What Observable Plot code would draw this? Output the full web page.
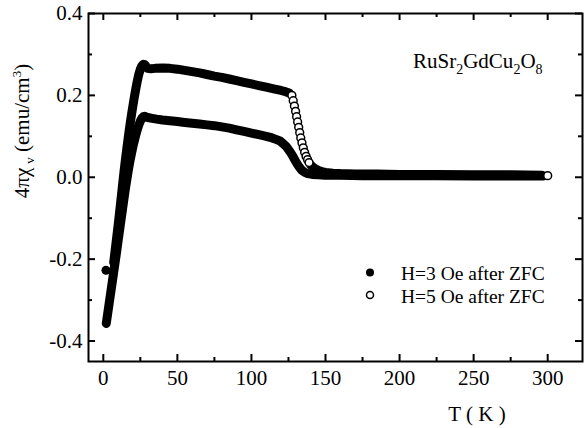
<!DOCTYPE html>
<html><head><meta charset="utf-8">
<script src="https://cdn.jsdelivr.net/npm/d3@7"></script>
<script src="https://cdn.jsdelivr.net/npm/@observablehq/plot@0.6"></script>
<style>body{margin:0;background:#fff;} svg{display:block;}</style>
</head><body><div id="chart"></div>
<script>
// H = 3 Oe after ZFC (filled circles)
const h3T   = [2,3,4,5,6,7,8,9,10,11,12,13,14,15,16,17,18,19,20,21,22,23,24,25,26,27,28,29,30,33,36,40,45,50,55,60,65,70,75,80,85,90,95,100,105,110,114,117,119.5,121.5,123.5,125,126.5,128,129.5,131,132.5,134,136,138,141,145,150,160,175,200,225,250,275,297];
const h3Chi = [-0.357,-0.332,-0.307,-0.282,-0.257,-0.232,-0.207,-0.182,-0.155,-0.129,-0.103,-0.077,-0.051,-0.026,-0.003,0.02,0.04,0.058,0.075,0.09,0.104,0.117,0.128,0.137,0.144,0.148,0.149,0.147,0.146,0.144,0.142,0.14,0.138,0.136,0.134,0.132,0.13,0.128,0.126,0.123,0.12,0.116,0.112,0.108,0.104,0.1,0.096,0.092,0.088,0.082,0.075,0.068,0.06,0.051,0.041,0.032,0.024,0.017,0.012,0.009,0.007,0.006,0.005,0.005,0.004,0.004,0.004,0.003,0.003,0.003];
// stray low-temperature point
const h3StrayT   = [1.8];
const h3StrayChi = [-0.227];

// H = 5 Oe after ZFC (open circles)
const h5T   = [7,8,9,10,11,12,13,14,15,16,17,18,19,20,21,22,23,24,25,26,27,28,29,30,32,35,40,45,50,55,60,65,70,75,80,85,90,95,100,105,110,115,120,123,125.5,127.3,128.2,129,129.8,130.5,131.2,131.9,132.6,133.3,134.1,135,135.9,136.9,137.9,138.9,140,141.5,143,145,147.5,150,155,160,170,185,200,225,250,275,296,300];
const h5Chi = [-0.208,-0.178,-0.148,-0.117,-0.085,-0.052,-0.018,0.015,0.045,0.074,0.102,0.128,0.152,0.175,0.197,0.217,0.236,0.252,0.264,0.272,0.276,0.275,0.27,0.266,0.265,0.266,0.267,0.266,0.264,0.261,0.258,0.255,0.251,0.247,0.244,0.24,0.236,0.232,0.228,0.224,0.22,0.216,0.212,0.209,0.206,0.2,0.187,0.174,0.161,0.148,0.135,0.122,0.109,0.096,0.084,0.072,0.061,0.051,0.043,0.036,0.03,0.025,0.021,0.017,0.014,0.012,0.01,0.009,0.008,0.008,0.007,0.007,0.006,0.006,0.005,0.004];

const xTicks = [0,50,100,150,200,250,300];
const xMinor = [25,75,125,175,225,275];
const yTicks = [-0.4,-0.2,0.0,0.2,0.4];
const yMinor = [-0.3,-0.1,0.1,0.3];
const seriesNames = ["H=3 Oe after ZFC","H=5 Oe after ZFC"];
const compoundParts = [["RuSr",""],["2","sub"],["GdCu",""],["2","sub"],["O",""],["8","sub"]];
const xTitle = "T ( K )";

const W = 584, H = 428, mL = 88, mR = 2, mT = 13, mB = 67;
const frameW = W - mL - mR, frameH = H - mT - mB;
const font = "Liberation Serif, Times New Roman, serif";
const fs = 21;

const h3 = h3T.map((T,i)=>({T, chi:h3Chi[i]}));
const h3Stray = h3StrayT.map((T,i)=>({T, chi:h3StrayChi[i]}));
const h5 = h5T.map((T,i)=>({T, chi:h5Chi[i]}));
// points that are far apart on screen show up as separate open circles
const sparse = d => (d.T >= 127 && d.T <= 139) || d.T >= 300;
let seg = 0;
h5.forEach((d,i)=>{ if (i>0 && sparse(d)!==sparse(h5[i-1])) seg++; d.seg = seg; });

const plot = Plot.plot({
  width: W, height: H,
  marginLeft: mL, marginRight: mR, marginTop: mT, marginBottom: mB,
  style: {fontFamily: font, fontSize: fs+"px", color: "black", background: "white"},
  x: {domain: [-10, 323.5]},
  y: {domain: [-0.45, 0.4]},
  marks: [
    Plot.line(h3, {x:"T", y:"chi", stroke:"black", strokeWidth:9, strokeLinecap:"round", strokeLinejoin:"round"}),
    Plot.dot(h3Stray, {x:"T", y:"chi", r:4.5, fill:"black"}),
    Plot.line(h5.filter(d=>!sparse(d)), {x:"T", y:"chi", z:"seg", stroke:"black", strokeWidth:9, strokeLinecap:"round", strokeLinejoin:"round"}),
    Plot.dot(h5.filter(sparse), {x:"T", y:"chi", r:3.9, fill:"white", stroke:"black", strokeWidth:1.5}),
    // inward ticks on all four sides
    Plot.tickX(xTicks, {x:d=>d, insetBottom: frameH-7, stroke:"black", strokeWidth:2}),
    Plot.tickX(xTicks, {x:d=>d, insetTop: frameH-7, stroke:"black", strokeWidth:2}),
    Plot.tickX(xMinor, {x:d=>d, insetBottom: frameH-4, stroke:"black", strokeWidth:2}),
    Plot.tickX(xMinor, {x:d=>d, insetTop: frameH-4, stroke:"black", strokeWidth:2}),
    Plot.tickY(yTicks, {y:d=>d, insetRight: frameW-7, stroke:"black", strokeWidth:2}),
    Plot.tickY(yTicks, {y:d=>d, insetLeft: frameW-7, stroke:"black", strokeWidth:2}),
    Plot.tickY(yMinor, {y:d=>d, insetRight: frameW-4, stroke:"black", strokeWidth:2}),
    Plot.tickY(yMinor, {y:d=>d, insetLeft: frameW-4, stroke:"black", strokeWidth:2}),
    Plot.axisX({ticks: xTicks, tickSize: 0, tickPadding: 9, fontSize: fs, label: null, tickFormat: d=>String(d)}),
    Plot.axisY({ticks: yTicks, tickSize: 0, tickPadding: 6, fontSize: fs, label: null, tickFormat: d=>d.toFixed(1)}),
    Plot.frame({stroke:"black", strokeWidth:2})
  ]
});
document.getElementById("chart").appendChild(plot);

const svg = d3.select(plot);
// y-axis title
const yt = svg.append("text").attr("transform","translate(29,131) rotate(-90)")
  .attr("text-anchor","middle").attr("font-family",font).attr("font-size",fs).attr("fill","black");
yt.append("tspan").text("4πχ");
yt.append("tspan").attr("font-size",13).attr("dx",4).attr("dy",5).text("v");
yt.append("tspan").attr("dy",-5).text(" (emu/cm");
yt.append("tspan").attr("font-size",13).attr("dy",-8).text("3");
yt.append("tspan").attr("dy",8).text(")");
// x-axis title
svg.append("text").attr("x",477).attr("y",421).attr("text-anchor","middle")
  .attr("font-family",font).attr("font-size",fs).attr("fill","black").text(xTitle);
// compound name
const ct = svg.append("text").attr("x",413).attr("y",68).attr("text-anchor","start")
  .attr("font-family",font).attr("font-size",fs).attr("fill","black");
compoundParts.forEach(([t,k],i)=>{
  const prev = i>0 ? compoundParts[i-1][1] : "";
  const ts = ct.append("tspan").text(t);
  if (k==="sub") ts.attr("font-size",14).attr("dy",6);
  else if (prev==="sub") ts.attr("dy",-6);
});
// legend
const lg = svg.append("g").attr("font-family",font).attr("font-size",19.5).attr("fill","black").attr("text-anchor","start");
lg.append("circle").attr("cx",370).attr("cy",272.5).attr("r",4).attr("fill","black");
lg.append("circle").attr("cx",370).attr("cy",295).attr("r",3.5).attr("fill","white").attr("stroke","black").attr("stroke-width",1.5);
lg.append("text").attr("x",401).attr("y",279.5).text(seriesNames[0]);
lg.append("text").attr("x",401).attr("y",302.5).text(seriesNames[1]);
</script>
</body></html>
